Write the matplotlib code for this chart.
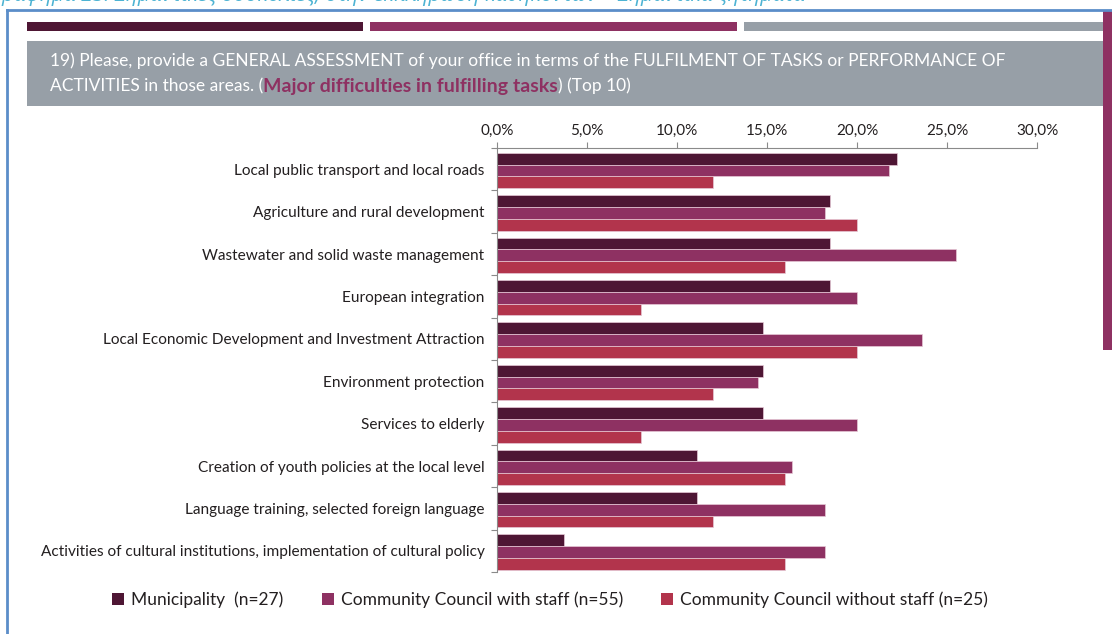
import numpy as np
import matplotlib
matplotlib.use('Agg')
import matplotlib.pyplot as plt
from matplotlib.patches import Rectangle, Patch
from matplotlib.lines import Line2D
from matplotlib.text import Annotation
from matplotlib.ticker import FuncFormatter, MultipleLocator

plt.rcParams['font.family'] = ['Lato', 'Open Sans', 'DejaVu Sans']

# данные: доля ответов по группам (%)
categories = [
    'Local public transport and local roads',
    'Agriculture and rural development',
    'Wastewater and solid waste management',
    'European integration',
    'Local Economic Development and Investment Attraction',
    'Environment protection',
    'Services to elderly',
    'Creation of youth policies at the local level',
    'Language training, selected foreign language',
    'Activities of cultural institutions, implementation of cultural policy',
]
municipality = [22.2, 18.5, 18.5, 18.5, 14.8, 14.8, 14.8, 11.1, 11.1, 3.7]
council_staff = [21.8, 18.2, 25.5, 20.0, 23.6, 14.5, 20.0, 16.4, 18.2, 18.2]
council_no_staff = [12.0, 20.0, 16.0, 8.0, 20.0, 12.0, 8.0, 16.0, 12.0, 16.0]
series_names = ['Municipality  (n=27)',
                'Community Council with staff (n=55)',
                'Community Council without staff (n=25)']

c_dark = '#4E1634'
c_mid = '#8E3162'
c_red = '#B2344C'
c_gray = '#979FA7'
c_blue = '#5B8DC9'
c_text = '#231F20'

W, H = 1112, 634
fig = plt.figure(figsize=(W / 100, H / 100), dpi=100)


def px(x, y):
    # пиксели -> доли фигуры (y от верхнего края)
    return x / W, 1 - y / H


def rect(x0, y0, x1, y1, color):
    fx, fy = px(x0, y1)
    fig.add_artist(Rectangle((fx, fy), (x1 - x0) / W, (y1 - y0) / H,
                             transform=fig.transFigure, facecolor=color,
                             edgecolor='none', zorder=1))


# подпись сверху (обрезана краем)
fig.text(-8 / W, 1 - 1 / H,
         'Γράφημα 23: Σημαντικές δυσκολίες, στην εκπλήρωση καθηκόντων – Σημαντικά ζητήματα',
         family=['Open Sans', 'DejaVu Sans'], style='italic', fontsize=15,
         color='#4DB3D3', va='baseline', ha='left')

# рамка
fig.add_artist(Line2D([7 / W, 7 / W], [0, 1 - 10 / H], transform=fig.transFigure,
                      color=c_blue, lw=2))
fig.add_artist(Line2D([7 / W, 1], [1 - 10 / H, 1 - 10 / H], transform=fig.transFigure,
                      color=c_blue, lw=2))

# цветные полосы
rect(27, 22, 363, 31, c_dark)
rect(370, 22, 737, 31, c_mid)
rect(744, 22, 1112, 31, c_gray)
rect(1103, 11, 1112, 350, c_mid)

# серый заголовок
rect(27, 41, 1103, 106, c_gray)
fig.text(*px(50, 66), '19) Please, provide a GENERAL ASSESSMENT of your office in terms of the '
         'FULFILMENT OF TASKS or PERFORMANCE OF', color='white', fontsize=12.5,
         va='baseline', ha='left', zorder=3)
t1 = fig.text(*px(50, 91), 'ACTIVITIES in those areas. (', color='white', fontsize=12.5,
              va='baseline', ha='left', zorder=3)
t2 = Annotation('Major difficulties in fulfilling tasks', xy=(1, 0), xycoords=t1,
                xytext=(0, -1), textcoords='offset pixels',
                va='bottom', ha='left', color=c_mid, fontsize=14, fontweight='bold',
                zorder=3)
fig.add_artist(t2)
t3 = Annotation(') (Top 10)', xy=(1, 0), xycoords=t1, va='bottom', ha='left',
                xytext=(0, 0), textcoords='offset pixels',
                color='white', fontsize=12.5, zorder=3)
fig.add_artist(t3)


def place_tail(event=None):
    # хвост строки ставим сразу после жирного фрагмента
    r = fig.canvas.get_renderer()
    w = t2.get_window_extent(r).width
    t3.set_position((w, 0))


place_tail()

# график
ax = fig.add_axes([497 / W, 1 - 572 / H, 540 / W, 424 / H])
y = np.arange(len(categories))
h = 0.278
for k, (vals, col) in enumerate(zip([municipality, council_staff, council_no_staff],
                                    [c_dark, c_mid, c_red])):
    ax.barh(y + (k - 1) * h + 0.03, vals, height=h, color=col,
            edgecolor='#E6C9D6', linewidth=0.5, label=series_names[k])

ax.set_xlim(0, 30)
ax.set_ylim(len(categories) - 0.5, -0.5)
ax.xaxis.set_major_locator(MultipleLocator(5))
ax.xaxis.set_major_formatter(FuncFormatter(lambda v, p: f'{v:.1f}%'.replace('.', ',')))
ax.xaxis.tick_top()
ax.tick_params(axis='x', colors='#8A8A8A', length=4, width=0.8, pad=3,
               labelsize=11, labelcolor=c_text)
ax.set_yticks(y)
ax.set_yticklabels(categories)
ax.set_yticks(np.arange(-0.5, len(categories)), minor=True)
ax.tick_params(axis='y', which='major', length=0, pad=9, labelsize=11.1,
               labelcolor=c_text)
ax.tick_params(axis='y', which='minor', length=4, width=0.8, color='#8A8A8A')
for s in ['right', 'bottom']:
    ax.spines[s].set_visible(False)
for s in ['top', 'left']:
    ax.spines[s].set_color('#8A8A8A')
    ax.spines[s].set_linewidth(0.8)

handles = [Patch(facecolor=c, edgecolor='none') for c in [c_dark, c_mid, c_red]]
fig.legend(handles, series_names, loc='center', bbox_to_anchor=px(550, 600), ncol=3,
           frameon=False, fontsize=12.5, handlelength=0.7, handleheight=0.7,
           handletextpad=0.4, columnspacing=2.2, labelcolor=c_text)

fig.savefig('out.png', dpi=100)
